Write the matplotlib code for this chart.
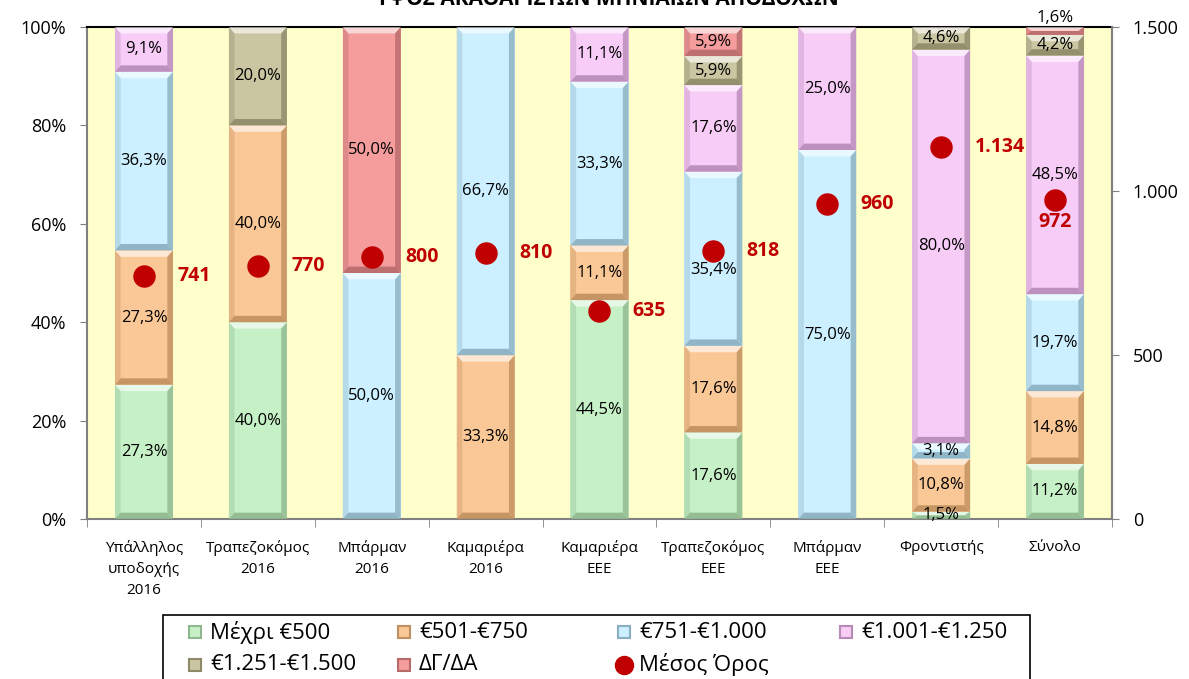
import numpy as np
import matplotlib
matplotlib.use('Agg')
import matplotlib.pyplot as plt
from matplotlib.patches import Polygon, Rectangle
from matplotlib.lines import Line2D
from matplotlib.ticker import FuncFormatter

plt.rcParams['font.family'] = ['Open Sans', 'DejaVu Sans']

categories = ['Υπάλληλος\nυποδοχής\n2016', 'Τραπεζοκόμος\n2016', 'Μπάρμαν\n2016',
              'Καμαριέρα\n2016', 'Καμαριέρα\nΕΕΕ', 'Τραπεζοκόμος\nΕΕΕ', 'Μπάρμαν\nΕΕΕ',
              'Φροντιστής', 'Σύνολο']
series_names = ['Μέχρι €500', '€501-€750', '€751-€1.000', '€1.001-€1.250',
                '€1.251-€1.500', 'ΔΓ/ΔΑ']
upto_500 = [27.3, 40.0, 0, 0, 44.5, 17.6, 0, 1.5, 11.2]
r501_750 = [27.3, 40.0, 0, 33.3, 11.1, 17.6, 0, 10.8, 14.8]
r751_1000 = [36.3, 0, 50.0, 66.7, 33.3, 35.4, 75.0, 3.1, 19.7]
r1001_1250 = [9.1, 0, 0, 0, 11.1, 17.6, 25.0, 80.0, 48.5]
r1251_1500 = [0, 20.0, 0, 0, 0, 5.9, 0, 4.6, 4.2]
no_answer = [0, 0, 50.0, 0, 0, 5.9, 0, 0, 1.6]
mean_pay = [741, 770, 800, 810, 635, 818, 960, 1134, 972]

colors = ['#C6F0C6', '#FAC896', '#CCF0FF', '#F7CCF7', '#CBC6A2', '#F59C9C']
edges = ['#8FB88F', '#C0915F', '#8AAFC0', '#B88AB8', '#8E8968', '#B86A6A']
red = '#C00000'

fig = plt.figure(figsize=(11.89, 6.79), dpi=100)
ax = fig.add_axes([0.0732, 0.2356, 0.8620, 0.7246])
ax.set_facecolor('#FFFFCC')

x = np.arange(len(categories))
width = 0.51
bottom = np.zeros(len(categories))
for vals, name, c, ec in zip([upto_500, r501_750, r751_1000, r1001_1250, r1251_1500, no_answer],
                             series_names, colors, edges):
    vals = np.array(vals, dtype=float)
    bars = ax.bar(x, vals, width, bottom=bottom, color=c, edgecolor='none', label=name, zorder=2)
    for i, (rect, v) in enumerate(zip(bars, vals)):
        if v <= 0:
            continue
        x0, y0 = rect.get_x(), rect.get_y()
        w, h = rect.get_width(), rect.get_height()
        bx = min(0.05, w / 2)
        by = min(1.3, h / 2)
        x1, y1 = x0 + w, y0 + h
        # bevel look
        ax.add_patch(Polygon([[x0, y1], [x1, y1], [x1 - bx, y1 - by], [x0 + bx, y1 - by]],
                             closed=True, color='white', alpha=0.6, lw=0, zorder=3))
        ax.add_patch(Polygon([[x0, y0], [x1, y0], [x1 - bx, y0 + by], [x0 + bx, y0 + by]],
                             closed=True, color=ec, alpha=0.9, lw=0, zorder=3))
        ax.add_patch(Polygon([[x1, y0], [x1, y1], [x1 - bx, y1 - by], [x1 - bx, y0 + by]],
                             closed=True, color=ec, alpha=0.8, lw=0, zorder=3))
        ax.add_patch(Polygon([[x0, y0], [x0, y1], [x0 + bx, y1 - by], [x0 + bx, y0 + by]],
                             closed=True, color=ec, alpha=0.35, lw=0, zorder=3))
        label = f'{v:.1f}%'.replace('.', ',')
        ly = y0 + h / 2
        if v < 2 and y1 >= 99.9:
            ly = 101.9
        dot = mean_pay[i] / 15
        if abs(ly - dot) < 4:
            ly = dot - 4
        ax.text(x0 + w / 2, ly, label, ha='center', va='center',
                fontsize=12, color='black', zorder=5, clip_on=False)
    bottom += vals

ax.set_xlim(-0.5, len(categories) - 0.5)
ax.set_ylim(0, 100)
ax.set_yticks([0, 20, 40, 60, 80, 100])
ax.yaxis.set_major_formatter(FuncFormatter(lambda v, p: f'{int(v)}%'))
ax.tick_params(axis='y', labelsize=13, length=5, pad=10, color='#808080')
ax.set_xticks(x)
ax.set_xticklabels(categories, fontsize=11, linespacing=1.55)
ax.set_xticks(np.arange(len(categories) + 1) - 0.5, minor=True)
ax.tick_params(axis='x', which='major', length=0, pad=15)
ax.tick_params(axis='x', which='minor', length=6, color='#808080')
for s in ['left', 'bottom', 'right']:
    ax.spines[s].set_color('#808080')
    ax.spines[s].set_linewidth(1.5)
ax.spines['top'].set_color('black')
ax.spines['top'].set_linewidth(1.5)

ax2 = ax.twinx()
ax2.set_ylim(0, 1500)
ax2.set_yticks([0, 500, 1000, 1500])
ax2.yaxis.set_major_formatter(FuncFormatter(lambda v, p: f'{int(v):,}'.replace(',', '.')))
ax2.tick_params(axis='y', labelsize=13, length=5, pad=10, color='#808080')
ax2.spines['right'].set_color('#808080')
ax2.spines['right'].set_linewidth(1.5)
for s in ['left', 'bottom', 'top']:
    ax2.spines[s].set_visible(False)
ax2.scatter(x, mean_pay, s=230, color=red, zorder=6)
for xi, m in zip(x, mean_pay):
    txt = f'{m:,}'.replace(',', '.')
    if xi == x[-1]:
        # last label sits under the dot
        ax2.annotate(txt, (xi, m), xytext=(0, -16), textcoords='offset points',
                     ha='center', va='center', fontsize=14, fontweight='bold', color=red, zorder=7)
    else:
        ax2.annotate(txt, (xi, m), xytext=(24, 0), textcoords='offset points',
                     ha='left', va='center', fontsize=14, fontweight='bold', color=red)

# legend drawn by hand so the columns sit on an even grid
W, H = 1189, 679
fig.add_artist(Rectangle((163 / W, -0.01), (1030 - 163) / W, 0.01 + (H - 615) / H,
                         transform=fig.transFigure, facecolor='white', edgecolor='black', lw=1.2))
labels = series_names + ['Μέσος Όρος']
col_x = [195, 404, 624, 846]
row_y = [632, 665]
for i, lab in enumerate(labels):
    r, cidx = divmod(i, 4)
    px, py = col_x[cidx] / W, 1 - row_y[r] / H
    if i < len(colors):
        fig.add_artist(Line2D([px], [py], marker='s', markersize=9, color=colors[i],
                              markeredgecolor=edges[i], markeredgewidth=1.5,
                              transform=fig.transFigure))
    else:
        fig.add_artist(Line2D([px], [py], marker='o', markersize=13, color=red,
                              transform=fig.transFigure))
    fig.text(px + 15 / W, py, lab, ha='left', va='center', fontsize=16)

fig.text(0.509, 0.9926, 'ΎΨΟΣ ΑΚΑΘΑΡΙΣΤΩΝ ΜΗΝΙΑΙΩΝ ΑΠΟΔΟΧΩΝ', ha='center', va='baseline',
         fontsize=15, fontweight='bold')

fig.savefig('out.png', dpi=100)
